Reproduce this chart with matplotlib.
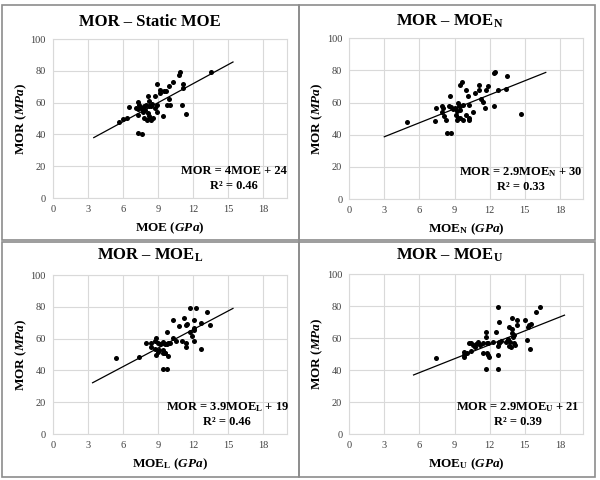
import matplotlib.pyplot as plt
from matplotlib.patches import Rectangle

plt.rcParams['font.family'] = ['Liberation Serif', 'DejaVu Serif']
plt.rcParams['mathtext.fontset'] = 'custom'
plt.rcParams['mathtext.rm'] = 'Liberation Serif:bold'
plt.rcParams['mathtext.bf'] = 'Liberation Serif:bold'
plt.rcParams['mathtext.it'] = 'Liberation Serif:italic:bold'
plt.rcParams['mathtext.bfit'] = 'Liberation Serif:italic:bold'

# static MOE vs MOR
moe_static = [13.5, 10.9, 10.8, 11.1, 10.3, 11.1, 9.9, 8.9, 9.2, 9.5, 9.7, 9.2, 8.7, 8.1,
              9.9, 11.05, 9.8, 10.0, 11.4, 9.45, 8.9, 7.3, 7.4, 7.1, 7.5, 7.8, 8.0, 8.2,
              8.2, 8.4, 8.5, 8.7, 8.9, 7.9, 7.7, 7.3, 7.7, 8.1, 8.2, 8.3, 8.6, 8.4, 8.05,
              7.8, 7.3, 6.5, 6.3, 6.0, 5.7, 7.25, 7.6]
mor_static = [79.0, 79.0, 77.5, 71.5, 72.7, 69.0, 70.4, 71.5, 68.1, 67.6, 67.6, 66.0, 64.3, 64.0,
              62.5, 58.7, 58.3, 58.3, 52.8, 51.8, 58.5, 60.6, 58.5, 56.8, 56.8, 57.7, 58.5, 61.0,
              57.9, 57.7, 58.9, 56.8, 54.3, 55.2, 54.3, 55.8, 55.8, 53.3, 51.8, 50.1, 50.1, 49.1, 49.1,
              50.5, 52.2, 57.2, 50.5, 49.5, 47.6, 40.9, 40.4]

# MOE_N vs MOR
moe_n = [12.5, 12.4, 13.5, 9.65, 9.5, 11.1, 11.9, 10.0, 11.1, 11.7, 10.75, 12.7, 13.4, 10.15,
         8.6, 11.25, 11.4, 10.25, 12.4, 11.6, 14.7, 7.4, 7.9, 8.05, 8.5, 8.7, 9.05, 9.3,
         9.35, 9.5, 9.75, 8.9, 9.2, 9.5, 7.95, 8.1, 7.3, 8.3, 9.15, 9.3, 9.2, 9.5, 9.7,
         10.0, 10.2, 10.25, 10.6, 4.9, 8.35, 8.7]
mor_n = [78.7, 78.1, 76.4, 72.5, 71.2, 71.2, 70.2, 67.9, 67.5, 67.5, 65.7, 68.1, 68.7, 64.2,
         63.8, 61.9, 60.4, 58.4, 58.0, 56.7, 53.0, 56.3, 57.6, 56.3, 57.6, 57.1, 56.3, 59.8,
         58.0, 57.6, 58.4, 55.9, 54.8, 55.3, 54.2, 51.7, 48.7, 49.1, 52.4, 50.5, 49.1, 50.1, 49.1,
         52.2, 50.5, 49.1, 54.2, 47.6, 40.8, 40.8]

# MOE_L vs MOR
moe_l = [11.7, 12.2, 13.2, 10.3, 11.25, 12.1, 11.35, 11.5, 10.75, 12.7, 12.1, 12.05, 13.4, 9.75,
         11.75, 11.9, 10.3, 10.5, 11.0, 11.4, 12.05, 10.0, 11.35, 12.7, 8.85, 8.7, 8.95, 9.15,
         9.4, 9.55, 9.75, 9.85, 8.0, 8.4, 8.4, 8.7, 8.95, 8.85, 9.1, 9.4, 9.6, 9.85, 9.45,
         9.6, 7.4, 5.4, 9.4, 9.75]
mor_l = [79.2, 79.2, 76.9, 71.7, 72.8, 71.7, 68.4, 69.0, 67.7, 70.0, 66.5, 65.4, 68.6, 64.0,
         64.3, 61.6, 60.6, 58.7, 58.7, 57.4, 58.7, 57.0, 54.5, 53.3, 60.6, 58.7, 57.4, 56.4,
         57.7, 56.4, 56.6, 57.4, 57.4, 57.4, 55.0, 53.5, 51.4, 49.7, 52.8, 52.8, 50.9, 49.2, 50.9,
         50.9, 48.6, 47.6, 40.7, 41.1]

# MOE_U vs MOR
moe_u = [16.3, 15.95, 12.7, 13.95, 14.3, 15.0, 12.8, 13.7, 14.3, 13.95, 15.4, 15.55, 15.3, 11.7,
         12.55, 13.95, 14.1, 11.7, 15.2, 10.2, 10.4, 11.05, 11.15, 10.85, 10.55, 10.75, 11.45, 11.75,
         11.9, 12.3, 12.8, 12.95, 13.4, 13.6, 13.75, 14.0, 14.1, 13.7, 13.85, 14.15, 12.8, 12.7,
         9.85, 9.85, 9.85, 10.05, 10.4, 11.4, 11.75, 11.9, 11.95, 12.75, 15.45, 7.4, 11.7, 12.75]
mor_u = [79.2, 76.4, 79.2, 72.3, 71.2, 71.2, 70.0, 67.1, 67.9, 65.6, 67.9, 68.8, 67.1, 63.6,
         64.0, 62.9, 61.7, 60.8, 58.8, 57.1, 57.1, 57.7, 56.0, 56.3, 55.4, 54.6, 56.7, 56.7,
         56.7, 57.7, 57.7, 58.3, 57.7, 59.2, 57.7, 60.8, 56.7, 55.0, 54.2, 55.6, 56.7, 55.0,
         51.4, 49.4, 48.3, 50.4, 52.1, 50.4, 50.8, 49.4, 48.3, 49.4, 52.9, 47.3, 40.4, 40.8]

titles = ['MOR – Static MOE', r'MOR – MOE$_\mathbf{N}$', r'MOR – MOE$_\mathbf{L}$', r'MOR – MOE$_\mathbf{U}$']
xlabels = [r'MOE ($\mathbfit{GPa}$)', r'MOE$_\mathbf{N}$ ($\mathbfit{GPa}$)',
           r'MOE$_\mathbf{L}$ ($\mathbfit{GPa}$)', r'MOE$_\mathbf{U}$ ($\mathbfit{GPa}$)']
equations = ['MOR = 4MOE + 24\nR² = 0.46', r'MOR = 2.9MOE$_\mathbf{N}$ + 30' + '\nR² = 0.33',
             r'MOR = 3.9MOE$_\mathbf{L}$ + 19' + '\nR² = 0.46', r'MOR = 2.9MOE$_\mathbf{U}$ + 21' + '\nR² = 0.39']
slopes = [4.0, 2.9, 3.9, 2.9]
intercepts = [24, 30, 19, 21]
trend_x = [(3.5, 15.4), (3.0, 16.8), (3.4, 15.4), (5.5, 18.4)]
eq_x = [15.5, 14.7, 14.9, 14.4]
xs = [moe_static, moe_n, moe_l, moe_u]
ys = [mor_static, mor_n, mor_l, mor_u]

fig = plt.figure(figsize=(6, 4.8), dpi=100)

# cadres des panneaux
for x0, y0 in [(0.004, 0.5), (0.498, 0.5), (0.004, 0.006), (0.498, 0.006)]:
    fig.add_artist(Rectangle((x0, y0), 0.494, 0.49, transform=fig.transFigure,
                             fill=False, edgecolor='#8c8c8c', lw=1.2))

positions = [[0.088, 0.5875, 0.39, 0.331], [0.582, 0.5854, 0.39, 0.335],
             [0.088, 0.0958, 0.39, 0.331], [0.582, 0.0958, 0.39, 0.333]]
title_pos = [(0.25, 0.955), (0.75, 0.955), (0.25, 0.468), (0.75, 0.468)]

for i in range(4):
    ax = fig.add_axes(positions[i])
    ax.scatter(xs[i], ys[i], s=13, color='black', zorder=3, linewidths=0)
    x1, x2 = trend_x[i]
    ax.plot([x1, x2], [slopes[i] * x1 + intercepts[i], slopes[i] * x2 + intercepts[i]],
            color='black', lw=0.9, zorder=2)
    ax.set_xlim(0, 20)
    ax.set_ylim(0, 100)
    ax.set_xticks(range(0, 19, 3))
    ax.set_yticks(range(0, 101, 20))
    ax.grid(True, color='#d9d9d9', lw=0.8)
    ax.set_axisbelow(True)
    for sp in ax.spines.values():
        sp.set_color('#d9d9d9')
        sp.set_linewidth(0.8)
    ax.tick_params(length=0, labelsize=7.5, labelcolor='#404040', pad=5)
    ax.set_ylabel(r'MOR ($\mathbfit{MPa}$)', fontsize=9.5, fontweight='bold', labelpad=1)
    ax.set_xlabel(xlabels[i], fontsize=9.5, fontweight='bold', labelpad=5)
    ax.text(eq_x[i], 12.3, equations[i], ha='center', va='center', fontsize=9,
            fontweight='bold', linespacing=1.25)
    fig.text(title_pos[i][0], title_pos[i][1], titles[i], ha='center', va='center',
             fontsize=12, fontweight='bold')

fig.savefig('out.png', dpi=100)
